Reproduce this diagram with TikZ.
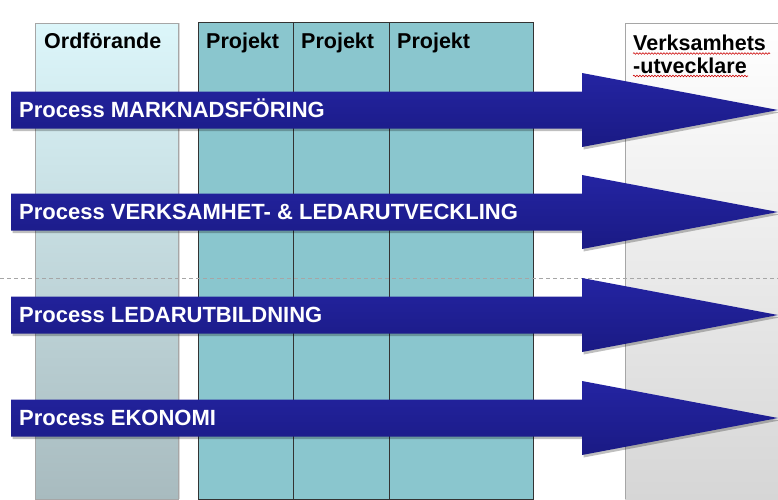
\documentclass[tikz,border=0pt]{standalone}
\usepackage{fontspec}
\setmainfont{Liberation Sans}
\usetikzlibrary{decorations.pathmorphing}
\definecolor{ordtop}{HTML}{DCF6FA}
\definecolor{ordbot}{HTML}{A8BBBF}
\definecolor{projfill}{HTML}{8AC6CE}
\definecolor{arrtop}{HTML}{2424A2}
\definecolor{arrbot}{HTML}{1A1A84}
\definecolor{verbot}{HTML}{D6D6D6}
\tikzset{
  hdr/.style={anchor=base west, inner sep=0pt, font=\fontsize{21.5}{24}\selectfont\bfseries, text=black},
  proc/.style={anchor=base west, inner sep=0pt, font=\fontsize{22}{24}\selectfont\bfseries, text=white},
  squiggle/.style={draw=red!80!black, line width=0.6pt, decorate, decoration={snake, amplitude=0.8pt, segment length=3pt}},
}
\newcommand{\procarrow}[1]{%
  \fill[black, opacity=0.25, shift={(1.5,2.5)}]
    (11,#1-18.5) -- (582,#1-18.5) -- (582,#1-37) -- (778,#1) -- (582,#1+37) -- (582,#1+18.5) -- (11,#1+18.5) -- cycle;
  \shade[top color=arrtop, bottom color=arrbot]
    (11,#1-18.5) -- (582,#1-18.5) -- (582,#1-37) -- (778,#1) -- (582,#1+37) -- (582,#1+18.5) -- (11,#1+18.5) -- cycle;
}
\begin{document}
\begin{tikzpicture}[x=1pt,y=-1pt]
\useasboundingbox (0,0) rectangle (778,499);
\fill[white] (0,0) rectangle (778,499);
% Ordforande column
\fill[black,opacity=0.15] (37,23) rectangle (180,499);
\shade[top color=ordtop, bottom color=ordbot, draw=gray!70] (35,23) rectangle (178,499);
% Projekt block
\fill[projfill, draw=black!80, line width=0.8pt] (198,22) rectangle (533,499);
\draw[black!80, line width=0.8pt] (293,22) -- (293,499);
\draw[black!80, line width=0.8pt] (389,22) -- (389,499);
% Verksamhets column
\shade[top color=white, bottom color=verbot] (625,23) rectangle (778,499);
\draw[gray!70] (625,499) -- (625,23) -- (778,23);
% dashed separator
\draw[gray!70, dash pattern=on 4pt off 3pt] (0,278) -- (778,278);
% headers
\node[hdr] (ord) at (44,48.5) {Ordförande};
\node[hdr] (p1) at (206,48.5) {Projekt};
\node[hdr] (p2) at (301,48.5) {Projekt};
\node[hdr] (p3) at (397,48.5) {Projekt};
\node[hdr] (v1) at (633,50.5) {Verksamhets};
\node[hdr] (v2) at (633,73) {-utvecklare};
\draw[squiggle] (v1.base west) ++(0,3) -- ++(137,0);
\draw[squiggle] (v2.base west) ++(0,3) -- ++(115,0);
% arrows
\procarrow{110}
\procarrow{212}
\procarrow{315}
\procarrow{418}
\node[proc] (a1) at (19,117.5) {Process MARKNADSFÖRING};
\node[proc] (a2) at (19,219.5) {Process VERKSAMHET- \& LEDARUTVECKLING};
\node[proc] (a3) at (19,322.5) {Process LEDARUTBILDNING};
\node[proc] (a4) at (19,425.5) {Process EKONOMI};
\end{tikzpicture}
\end{document}
